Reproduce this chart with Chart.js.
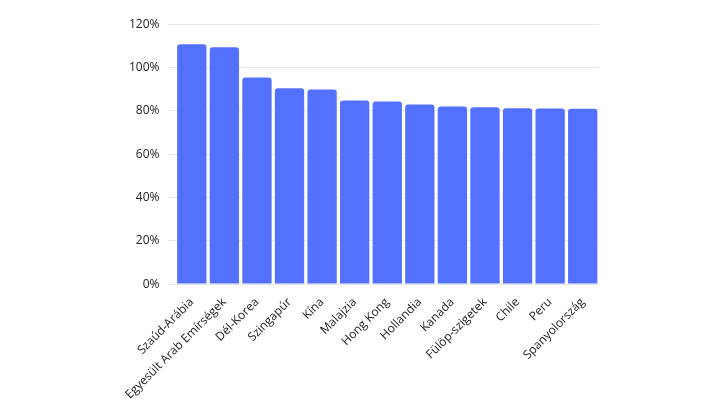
<!DOCTYPE html>
<html>
<head>
<meta charset="utf-8">
<script src="https://cdn.jsdelivr.net/npm/chart.js@4"></script>
<style>
  html, body { margin: 0; padding: 0; background: #fff; }
  #wrap { position: absolute; left: 121px; top: 9px; width: 478px; height: 396px; }
</style>
</head>
<body>
<div id="wrap"><canvas id="chart"></canvas></div>
<script>
// values
const categories = ['Szaúd-Arábia', 'Egyesült Arab Emírségek', 'Dél-Korea', 'Szingapúr', 'Kína',
  'Malajzia', 'Hong Kong', 'Hollandia', 'Kanada', 'Fülöp-szigetek', 'Chile', 'Peru', 'Spanyolország'];
const values = [110.8, 109.4, 95.4, 90.4, 89.9, 84.8, 84.3, 82.9, 82.0, 81.6, 81.2, 81.1, 81.0];
const yTicks = [0, 20, 40, 60, 80, 100, 120];

new Chart(document.getElementById('chart'), {
  type: 'bar',
  data: {
    labels: categories,
    datasets: [{
      data: values,
      backgroundColor: '#5470fe',
      borderRadius: { topLeft: 3, topRight: 3 },
      borderSkipped: 'bottom',
      categoryPercentage: 0.9,
      barPercentage: 1
    }]
  },
  options: {
    responsive: true,
    maintainAspectRatio: false,
    animation: false,
    plugins: { legend: { display: false }, tooltip: { enabled: false } },
    scales: {
      x: {
        grid: { display: false },
        border: { display: false },
        ticks: { color: '#222', font: { family: 'Open Sans', size: 12 }, maxRotation: 45, minRotation: 45, autoSkip: false }
      },
      y: {
        min: 0, max: 120,
        afterBuildTicks: axis => { axis.ticks = yTicks.map(v => ({ value: v })); },
        grid: { color: '#e8e8e8' },
        border: { display: false },
        ticks: { color: '#222', font: { family: 'Open Sans', size: 12 }, padding: 8, callback: v => v + '%' }
      }
    }
  }
});
</script>
</body>
</html>
